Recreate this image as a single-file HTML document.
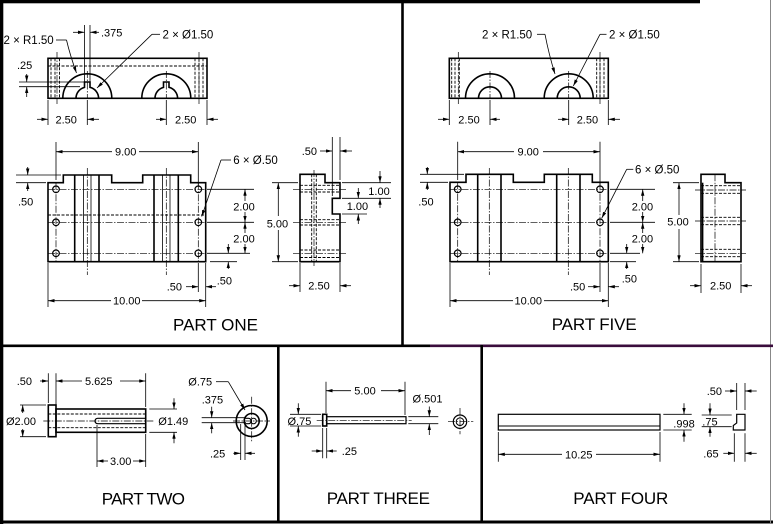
<!DOCTYPE html>
<html><head><meta charset="utf-8"><style>
html,body{margin:0;padding:0;background:#fff;}
svg{display:block}
text{font-family:"Liberation Sans",Arial,sans-serif;font-size:11px;fill:#000}
.o{stroke:#000;stroke-width:1.6;fill:none}
.t{stroke:#000;stroke-width:0.8;fill:none}
.h{stroke:#000;stroke-width:0.9;stroke-dasharray:3 1.5;fill:none}
.c{stroke:#000;stroke-width:0.7;stroke-dasharray:7 1.5 1.5 1.5;fill:none}
.d{stroke:#000;stroke-width:0.8;fill:none;marker-end:url(#a)}
.L{font-size:17px}
.s{font-size:11.5px}
</style></head><body>
<svg width="773" height="526" viewBox="0 0 773 526" xmlns="http://www.w3.org/2000/svg">
<defs><marker id="a" markerWidth="6.5" markerHeight="3.4" refX="6.5" refY="1.7" orient="auto" markerUnits="userSpaceOnUse"><path d="M0,0L6.5,1.7L0,3.4Z" fill="#000"/></marker></defs>

<!-- frame -->
<rect x="0" y="0" width="700" height="3.3" fill="#000"/>
<rect x="0" y="0" width="3.3" height="524" fill="#000"/>
<rect x="0" y="520.5" width="773" height="3" fill="#000"/>
<path d="M770.5,0V524" stroke="#888" stroke-width="1"/>
<path d="M402.5,0V346" stroke="#000" stroke-width="2.6"/>
<path d="M0,345.8H430" stroke="#000" stroke-width="2.6"/>
<path d="M430,345.8H773" stroke="#3a0c3c" stroke-width="2.6"/>
<path d="M278.3,345V522M481.7,345V522" stroke="#000" stroke-width="2.6"/>

<!-- ===== PART ONE top view ===== -->
<rect class="o" x="48" y="58.3" width="159" height="40"/>
<path class="h" d="M48,66H207"/>
<path class="h" d="M51,58.3V98.3M55,58.3V98.3M59.5,58.3V98.3M195,58.3V98.3M199,58.3V98.3M203,58.3V98.3"/>
<path class="c" d="M57,52V104M199,52V104"/>
<path class="o" d="M62.8,98.3A24.5,24.5 0 0 1 111.8,98.3M141.8,98.3A24.5,24.5 0 0 1 190.8,98.3"/>
<path class="o" d="M76,98.3A11.3,11.3 0 0 1 84.5,87.35V82H90V87.33A11.3,11.3 0 0 1 98.6,98.3"/>
<path class="o" d="M155,98.3A11.3,11.3 0 0 1 163.5,87.35V82H169V87.33A11.3,11.3 0 0 1 177.6,98.3"/>
<path class="c" d="M87.3,71V98M166.3,71V98"/>
<path class="t" d="M87.3,100V125M166.3,100V125M48,100V125M207,100V125"/>
<path class="d" d="M37,119.3H48"/><text x="55.5" y="123.3">2.50</text><path class="d" d="M99,119.3H87.3"/>
<path class="d" d="M156,119.3H166.3"/><text x="175" y="123.3">2.50</text><path class="d" d="M218,119.3H207"/>
<path class="t" d="M84.5,25V82M90,25V82"/>
<path class="d" d="M73,32.3H84.5"/><path class="d" d="M99,32.3H90"/><text x="101" y="36.3">.375</text>
<text class="s" x="3.5" y="44">2 × R1.50</text>
<path class="t" d="M56,40H66.5"/><path class="d" d="M66.5,40Q70,55 76.5,73"/>
<text class="s" x="162.5" y="38.3">2 × Ø1.50</text>
<path class="t" d="M160,34.3H152"/><path class="d" d="M152,34.3L97,88"/>
<text x="17" y="69">.25</text>
<path class="t" d="M19,82H84.5M19,86.7H80"/>
<path class="d" d="M26.7,74V82"/><path class="d" d="M26.7,97V86.7"/>

<!-- PART ONE front view -->
<path class="o" d="M48,182.7H63.3V175H111.7V182.7H142.7V175H190.7V182.7H205.7V261.7H48Z"/>
<path class="o" d="M74.7,175V261.7M99,175V261.7M154,175V261.7M178.3,175V261.7"/>
<path class="t" d="M83.5,175V261.7M91,175V261.7M162.5,175V261.7M170,175V261.7"/>
<path class="c" d="M87.3,168V275M166.3,168V275M56,182.7V261.7M198.3,182.7V261.7"/>
<path class="c" d="M48,189.3H205.7M48,222.3H205.7M48,253.3H205.7"/>
<path class="h" d="M48,215H205.7"/>
<path class="t" d="M207,189.3H254M207,222.3H254M207,253.3H250"/>
<g class="o" style="stroke-width:1.2">
<circle cx="56" cy="189.3" r="3.3"/><circle cx="56" cy="222.3" r="3.3"/><circle cx="56" cy="253.3" r="3.3"/>
<circle cx="198.3" cy="189.3" r="3.3"/><circle cx="198.3" cy="222.3" r="3.3"/><circle cx="198.3" cy="253.3" r="3.3"/>
</g>
<path class="t" d="M16,175H61M16,182.7H46"/>
<path class="d" d="M27.7,167V175"/><path class="d" d="M27.7,191V182.7"/>
<text x="18" y="205.7">.50</text>
<path class="t" d="M56,142V180M198.3,142V186"/>
<path class="d" d="M112,151.7H56"/><path class="d" d="M139,151.7H198.3"/>
<text x="115" y="155.7">9.00</text>
<text class="s" x="233.3" y="164">6 × Ø.50</text>
<path class="t" d="M231,160H221"/><path class="d" d="M221,160L201.7,216.5"/>
<path class="d" d="M245,201V189.3"/><path class="d" d="M245,212V222.3"/><path class="d" d="M245,233V222.3"/><path class="d" d="M245,244V253.3"/>
<text x="233.3" y="210.7">2.00</text><text x="233.3" y="242.3">2.00</text>
<path class="t" d="M198.3,263V292M205.7,263V307"/>
<path class="d" d="M186,286.7H198.3"/><path class="d" d="M216,286.7H205.7"/>
<text x="166.7" y="290.7">.50</text>
<path class="t" d="M210,261.7H237"/>
<path class="d" d="M228.3,244V253.3"/><path class="d" d="M228.3,269V261.7"/>
<text x="216.7" y="284.5">.50</text>
<path class="t" d="M48,263V307"/>
<path class="d" d="M111,300.7H48"/><path class="d" d="M142,300.7H205.7"/>
<text x="113" y="304.7">10.00</text>

<!-- PART ONE side view -->
<path class="o" d="M300,174.3H325V182.7H340V198.3H332.3V214H340V261.7H300Z"/>
<path class="h" d="M311.7,174.3V261.7M316.3,174.3V261.7"/>
<path class="c" d="M314,170V266"/>
<path class="h" d="M300,185.3H340M300,192H340M300,219.7H340M300,225H340M300,250H340M300,257.5H340"/>
<path class="c" d="M293,189.3H347M293,222.3H347M293,253.3H347"/>
<path class="t" d="M272,182.7H298M272,261.7H298"/>
<path class="d" d="M278.3,216V182.7"/><path class="d" d="M278.3,230V261.7"/>
<text x="266.7" y="227.3">5.00</text>
<path class="t" d="M332.3,137V196M340,137V180"/>
<path class="d" d="M320,151H332.3"/><path class="d" d="M352,151H340"/>
<text x="301.7" y="155">.50</text>
<path class="t" d="M342,182.7H391M342,198.3H391M342,214H367"/>
<path class="d" d="M380,171V182.7"/><path class="d" d="M380,208V198.3"/>
<text x="368.3" y="195">1.00</text>
<path class="d" d="M358.3,188V198.3"/><path class="d" d="M358.3,224V214"/>
<text x="346.7" y="210">1.00</text>
<path class="t" d="M300,263V292M340,263V292"/>
<path class="d" d="M289,285.7H300"/><path class="d" d="M351,285.7H340"/>
<text x="308.3" y="289.7">2.50</text>
<text class="L" x="173" y="330.5" textLength="85">PART ONE</text>

<!-- ===== PART FIVE top view ===== -->
<rect class="o" x="449.3" y="58.3" width="159" height="40"/>
<path class="h" d="M451.7,58.3V98.3M455,58.3V98.3M459.3,58.3V98.3M596.7,58.3V98.3M600,58.3V98.3M604,58.3V98.3"/>
<path class="c" d="M458.3,52V104M600,52V104"/>
<path class="o" d="M465.5,98.3A24.5,24.5 0 0 1 514.5,98.3M544.2,98.3A24.5,24.5 0 0 1 593.2,98.3M478.5,98.3A11.5,11.5 0 0 1 501.5,98.3M557.2,98.3A11.5,11.5 0 0 1 580.2,98.3"/>
<path class="c" d="M490,71V98M568.7,71V98"/>
<path class="t" d="M490,100V125M568.7,100V125M449.3,100V125M608.3,100V125"/>
<path class="d" d="M438,119.3H449.3"/><text x="458.3" y="123.3">2.50</text><path class="d" d="M500,119.3H490"/>
<path class="d" d="M558,119.3H568.7"/><text x="576.7" y="123.3">2.50</text><path class="d" d="M620,119.3H608.3"/>
<text class="s" x="482" y="38.3">2 × R1.50</text>
<path class="t" d="M537,34.3H545"/><path class="d" d="M545,34.3Q549,55 555,74"/>
<text class="s" x="609" y="38.3">2 × Ø1.50</text>
<path class="t" d="M606.5,34.3H600"/><path class="d" d="M600,34.3L573.3,86"/>

<!-- PART FIVE front view -->
<path class="o" d="M450,182.3H466V174.3H513.3V182.3H544.3V174.3H592.3V182.3H608.3V261.7H450Z"/>
<path class="o" d="M477.7,174.3V261.7M501,174.3V261.7M556.7,174.3V261.7M580,174.3V261.7"/>
<path class="c" d="M489.3,168V275M568.3,168V275M457.7,182.3V261.7M600,182.3V261.7"/>
<path class="c" d="M450,189.3H608.3M450,222.3H608.3M450,253.3H608.3"/>
<path class="t" d="M610,189.3H655M610,222.3H655M610,253.3H640"/>
<g class="o" style="stroke-width:1.2">
<circle cx="457.7" cy="189.3" r="3.3"/><circle cx="457.7" cy="222.3" r="3.3"/><circle cx="457.7" cy="253.3" r="3.3"/>
<circle cx="600" cy="189.3" r="3.3"/><circle cx="600" cy="222.3" r="3.3"/><circle cx="600" cy="253.3" r="3.3"/>
</g>
<path class="t" d="M420,174.3H464M420,182.3H448"/>
<path class="d" d="M427.3,167V174.3"/><path class="d" d="M427.3,190V182.3"/>
<text x="418.3" y="205.7">.50</text>
<path class="t" d="M457.7,141.7V180M600,141.7V186"/>
<path class="d" d="M514,151.7H457.7"/><path class="d" d="M543,151.7H600"/>
<text x="517.5" y="155.7">9.00</text>
<text class="s" x="635" y="173.3">6 × Ø.50</text>
<path class="t" d="M633.3,169.3H626.7"/><path class="d" d="M626.7,169.3L601.7,218.3"/>
<path class="d" d="M642.7,201V189.3"/><path class="d" d="M642.7,212V222.3"/><path class="d" d="M642.7,233V222.3"/><path class="d" d="M642.7,244V253.3"/>
<text x="631.7" y="210.7">2.00</text><text x="631.7" y="242.3">2.00</text>
<path class="t" d="M600,263V292M608.3,263V307"/>
<path class="d" d="M588,286.7H600"/><path class="d" d="M619,286.7H608.3"/>
<text x="570" y="290.7">.50</text>
<path class="t" d="M610,261.7H636"/>
<path class="d" d="M626.7,244V253.3"/><path class="d" d="M626.7,269V261.7"/>
<text x="621.7" y="282.3">.50</text>
<path class="t" d="M450,263V307"/>
<path class="d" d="M513,300.7H450"/><path class="d" d="M544,300.7H608.3"/>
<text x="514.5" y="304.7">10.00</text>

<!-- PART FIVE side view -->
<path class="o" d="M701,174.3H725V182.7H741V261.7H701Z"/>
<path class="o" d="M702.6,182.7V261.7"/>
<path class="h" d="M701,185.7H741M701,193.3H741M701,217.3H741M701,224.7H741M701,249.3H741M701,256.7H741"/>
<path class="c" d="M695,190H746M695,221H746M695,253.3H746M715,174.3V262"/>
<path class="t" d="M673,182.7H699M673,261.7H699"/>
<path class="d" d="M679,215V182.7"/><path class="d" d="M679,229V261.7"/>
<text x="667.3" y="225.7">5.00</text>
<path class="t" d="M701,264V293M741,264V293"/>
<path class="d" d="M690,285.7H701"/><path class="d" d="M752,285.7H741"/>
<text x="710" y="289.7">2.50</text>
<text class="L" x="551.7" y="330" textLength="85">PART FIVE</text>

<!-- ===== PART TWO ===== -->
<rect class="o" x="48.3" y="405" width="7.7" height="31.7"/>
<rect class="o" x="56" y="409" width="89.7" height="23.3"/>
<path class="h" d="M48.3,414H145.7M48.3,427.7H145.7"/>
<path class="c" d="M43.3,421H153.3"/>
<path class="o" style="stroke-width:1.2" d="M145.7,418.3H97.7A2.7,2.7 0 0 0 97.7,423.7H145.7"/>
<path class="t" d="M48.3,373.3V403M56,373.3V407M145.7,373.3V407"/>
<path class="d" d="M40,381H48.3"/><text x="16.7" y="385">.50</text>
<path class="d" d="M82,381H56"/><path class="d" d="M120,381H145.7"/>
<text x="85" y="385">5.625</text>
<path class="t" d="M20,405H46M20,436.7H46"/>
<path class="d" d="M22.7,413V405"/><path class="d" d="M22.7,429V436.7"/>
<text x="6" y="425">Ø2.00</text>
<path class="t" d="M149.3,409H177M149.3,432.3H177"/>
<path class="d" d="M174,398.3V409"/><path class="d" d="M174,443.3V432.3"/>
<text x="158.3" y="425">Ø1.49</text>
<path class="t" d="M97,425V467M145.7,434V467"/>
<path class="d" d="M108,461H97"/><path class="d" d="M133,461H145.7"/>
<text x="110" y="465">3.00</text>
<circle class="o" cx="251.7" cy="421" r="15.5"/>
<circle class="o" cx="251.7" cy="421" r="7.5"/>
<path class="o" style="stroke-width:1.2" d="M245.5,418.3H248.5A2.7,2.7 0 0 1 248.5,423.7H245.5"/>
<circle class="o" style="stroke-width:1" cx="253.5" cy="421" r="2.8"/>
<path class="c" d="M251.7,396.7V441.7M233,421H270"/>
<path class="t" d="M201.7,417.7H246M201.7,422.7H246"/>
<path class="d" d="M211.7,406.7V417.7"/><path class="d" d="M211.7,433.3V422.7"/>
<text x="201.7" y="403.3">.375</text>
<text x="188.3" y="385.7">Ø.75</text>
<path class="t" d="M216,381.7H228.3"/><path class="d" d="M228.3,381.7L245,410"/>
<path class="t" d="M240.7,424V460M245,424V460"/>
<path class="d" d="M233.3,453.3H240.7"/><path class="d" d="M255,453.3H245"/>
<text x="210" y="457.3">.25</text>
<text class="L" x="101.7" y="504.3" textLength="83.3">PART TWO</text>

<!-- ===== PART THREE ===== -->
<rect class="o" x="322.7" y="414.3" width="4" height="11.7"/>
<rect class="o" style="stroke-width:1.2" x="326.7" y="416.7" width="79.3" height="7"/>
<path class="c" d="M316.7,420.3H411.7"/>
<path class="t" d="M326,381.7V413M405,381.7V415"/>
<path class="d" d="M351,390.7H326"/><path class="d" d="M381,390.7H405"/>
<text x="354.3" y="394.7">5.00</text>
<path class="t" d="M290,414.3H321M290,426H321"/>
<path class="d" d="M298.3,403.3V414.3"/><path class="d" d="M298.3,436.7V426"/>
<text x="287.5" y="425">Ø.75</text>
<path class="t" d="M408.3,416.7H438.3M408.3,423.7H438.3"/>
<path class="d" d="M429.3,406.5V416.7"/><path class="d" d="M429.3,435V423.7"/>
<text x="412.5" y="402.3">Ø.501</text>
<path class="t" d="M322.7,428V458.3M326.7,428V458.3"/>
<path class="d" d="M311.7,451H322.7"/><path class="d" d="M336.7,451H326.7"/>
<text x="341.7" y="455">.25</text>
<circle class="o" style="stroke-width:1.2" cx="460" cy="421.7" r="6.7"/>
<circle class="o" style="stroke-width:1" cx="460" cy="421.7" r="3.8"/>
<path class="c" d="M448,421.7H473.3M460,408V434.3"/>
<text class="L" x="326.7" y="504" textLength="103.3">PART THREE</text>

<!-- ===== PART FOUR ===== -->
<rect class="o" style="stroke-width:1.2" x="498.3" y="414.3" width="161.7" height="15.7"/>
<path class="o" style="stroke-width:1.1" d="M498.3,426H660"/>
<path class="t" d="M498.3,432V461.7M660,432V461.7"/>
<path class="d" d="M562,454.3H498.3"/><path class="d" d="M596,454.3H660"/>
<text x="565" y="458.3">10.25</text>
<path class="t" d="M663.3,414.3H691.7M663.3,430H691.7"/>
<path class="d" d="M684,403.3V414.3"/><path class="d" d="M684,441.7V430"/>
<text x="673.3" y="427.3">.998</text>
<path class="t" d="M701.7,415H731.7M701.7,426.7H731.7"/>
<path class="d" d="M710,403.3V415"/><path class="d" d="M710,436.7V426.7"/>
<text x="702.3" y="425.7">.75</text>
<path class="o" style="stroke-width:1.2" d="M736.7,414.3H745V430H733.3V425.5L736.7,423Z"/>
<path class="t" d="M736.7,383V410M745,383V410"/>
<path class="d" d="M725,391H736.7"/><path class="d" d="M756.7,391H745"/>
<text x="706.7" y="395">.50</text>
<path class="t" d="M734.3,433.3V461.7M745,433.3V461.7"/>
<path class="d" d="M723.3,453.3H734.3"/><path class="d" d="M756.7,453.3H745"/>
<text x="703.3" y="457.3">.65</text>
<text class="L" x="573.3" y="504" textLength="95">PART FOUR</text>
</svg>
</body></html>
